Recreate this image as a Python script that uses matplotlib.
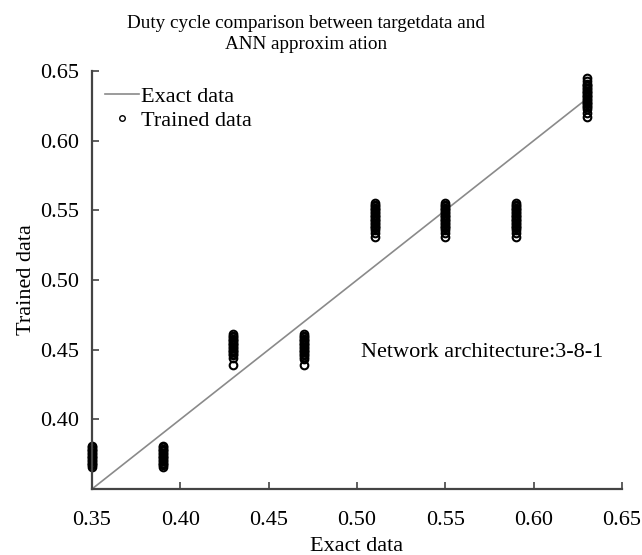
import matplotlib
matplotlib.use('Agg')
import matplotlib.pyplot as plt

plt.rcParams['font.family'] = ['Liberation Serif', 'DejaVu Serif']
plt.rcParams['font.size'] = 16

# exact data line
exact_x = [0.35, 0.63]
exact_y = [0.35, 0.63]

# trained data (ANN output) per target value
x_levels = [0.35, 0.39, 0.43, 0.47, 0.51, 0.55, 0.59, 0.63]
y_035 = [0.366, 0.367, 0.368, 0.369, 0.370, 0.371, 0.372, 0.373, 0.374, 0.375,
         0.376, 0.377, 0.378, 0.379, 0.380, 0.381]
y_039 = [0.366, 0.367, 0.368, 0.369, 0.370, 0.371, 0.372, 0.373, 0.374, 0.375,
         0.376, 0.377, 0.378, 0.379, 0.380, 0.381]
y_043 = [0.439, 0.444, 0.446, 0.447, 0.448, 0.449, 0.450, 0.451, 0.452, 0.453,
         0.454, 0.455, 0.456, 0.457, 0.458, 0.459, 0.460, 0.461]
y_047 = [0.439, 0.443, 0.445, 0.446, 0.447, 0.448, 0.449, 0.450, 0.451, 0.452,
         0.453, 0.454, 0.455, 0.456, 0.457, 0.458, 0.459, 0.460, 0.461]
y_051 = [0.531, 0.534, 0.536, 0.537, 0.538, 0.539, 0.540, 0.541, 0.542, 0.543,
         0.544, 0.545, 0.546, 0.547, 0.548, 0.549, 0.550, 0.551, 0.552, 0.553,
         0.554, 0.555]
y_055 = [0.531, 0.534, 0.536, 0.537, 0.538, 0.539, 0.540, 0.541, 0.542, 0.543,
         0.544, 0.545, 0.546, 0.547, 0.548, 0.549, 0.550, 0.551, 0.552, 0.553,
         0.554, 0.555]
y_059 = [0.531, 0.534, 0.536, 0.537, 0.538, 0.539, 0.540, 0.541, 0.542, 0.543,
         0.544, 0.545, 0.546, 0.547, 0.548, 0.549, 0.550, 0.551, 0.552, 0.553,
         0.554, 0.555]
y_063 = [0.617, 0.620, 0.623, 0.624, 0.625, 0.626, 0.627, 0.628, 0.629, 0.630,
         0.631, 0.632, 0.633, 0.634, 0.635, 0.636, 0.637, 0.638, 0.639, 0.640,
         0.641, 0.643, 0.645]
trained = [y_035, y_039, y_043, y_047, y_051, y_055, y_059, y_063]

ticks = [0.35, 0.40, 0.45, 0.50, 0.55, 0.60, 0.65]
y_ticks = [0.40, 0.45, 0.50, 0.55, 0.60, 0.65]

fig = plt.figure(figsize=(6.42, 5.55), dpi=100)
ax = fig.add_axes([92/642, 66/555, 530/642, 418/555])

ax.plot(exact_x, exact_y, color='#8a8a8a', lw=1.2, label='Exact data')
for i, xv in enumerate(x_levels):
    ys = trained[i]
    ax.plot([xv] * len(ys), ys, 'o', mfc='none', mec='black', ms=5.5, mew=1.5,
            clip_on=False, label='Trained data' if i == 0 else None)

ax.set_xlim(0.35, 0.65)
ax.set_ylim(0.35, 0.65)
ax.set_xticks(ticks)
ax.set_yticks(y_ticks)
ax.set_xticklabels(['%.2f' % t for t in ticks])
ax.set_yticklabels(['%.2f' % t for t in y_ticks])
ax.tick_params(direction='in', length=5, width=1.2, color='#444444')
ax.tick_params(axis='x', pad=16)
ax.tick_params(axis='y', pad=9)

for s in ['top', 'right']:
    ax.spines[s].set_visible(False)
for s in ['left', 'bottom']:
    ax.spines[s].set_color('#444444')
    ax.spines[s].set_linewidth(1.6)

ax.set_xlabel('Exact data', labelpad=5)
ax.set_ylabel('Trained data', labelpad=3)

ax.text(0.502, 0.448, 'Network architecture:3-8-1', va='center', ha='left')

leg = ax.legend(loc='upper left', frameon=False, handlelength=1.5,
                handletextpad=0.1, borderaxespad=0.2, labelspacing=0.15,
                bbox_to_anchor=(0.0, 0.995))
leg.legend_handles[1].set_markersize(4)
leg.legend_handles[1].set_markeredgewidth(1.0)

fig.text(306/642, 1 - 34/555, 'Duty cycle comparison between targetdata and\nANN approxim ation',
         ha='center', va='center', linespacing=1.25, fontsize=13.8)

fig.savefig('out.png', dpi=100)
